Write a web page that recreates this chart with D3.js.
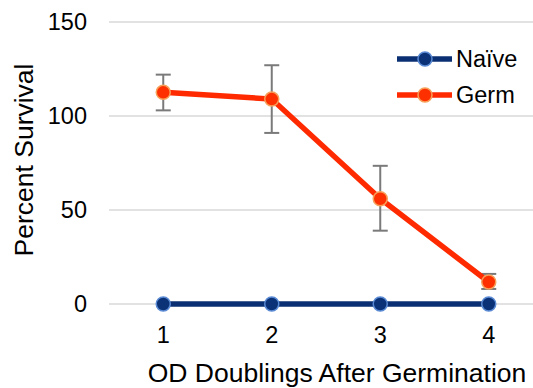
<!DOCTYPE html>
<meta charset="utf-8">
<style>
    body { margin: 0; background: #fff; }
    svg { font-family: "Liberation Sans", Arial, sans-serif; }
    .grid line { stroke: #d9d9d9; stroke-width: 1.5; }
    .axis text { font-size: 23.5px; fill: #000; }
</style>
<body>
<script src="https://d3js.org/d3.v7.min.js"></script>
<script>
    // data
    const doublings = [1, 2, 3, 4];
    const naive = [0, 0, 0, 0];
    const germ = [112.6, 109, 56, 11.7];
    const germErrLow = [103, 91, 39, 8];
    const germErrHigh = [122, 127, 73.5, 16];
    const yTicks = [0, 50, 100, 150];

    const series = [
        {name: "Naïve", values: naive, line: "#0b2f73", fill: "#0b3277", ring: "#5a8ad4"},
        {name: "Germ", values: germ, line: "#ff2a00", fill: "#ff3000", ring: "#f6a05a"}
    ];

    const width = 533, height = 388;

    const svg = d3.select("body").append("svg")
        .attr("width", width)
        .attr("height", height);

    const x = d3.scalePoint()
        .domain(doublings)
        .range([109, 543])
        .padding(0.5);

    const y = d3.scaleLinear()
        .domain([0, 150])
        .range([304, 22]);

    // gridlines
    svg.append("g")
        .attr("class", "grid")
        .selectAll("line")
        .data(yTicks)
        .enter().append("line")
        .attr("x1", 109)
        .attr("x2", width)
        .attr("y1", d => y(d))
        .attr("y2", d => y(d));

    // y tick labels
    svg.append("g")
        .attr("class", "axis")
        .selectAll("text")
        .data(yTicks)
        .enter().append("text")
        .attr("x", 87)
        .attr("y", d => y(d))
        .attr("dy", "0.36em")
        .style("text-anchor", "end")
        .text(d => d);

    // x tick labels
    svg.append("g")
        .attr("class", "axis")
        .selectAll("text")
        .data(doublings)
        .enter().append("text")
        .attr("x", d => x(d))
        .attr("y", 343)
        .style("text-anchor", "middle")
        .text(d => d);

    // axis titles
    svg.append("text")
        .attr("x", 337)
        .attr("y", 382)
        .style("text-anchor", "middle")
        .style("font-size", "26.5px")
        .text("OD Doublings After Germination");

    svg.append("text")
        .attr("transform", "translate(33,160) rotate(-90)")
        .style("text-anchor", "middle")
        .style("font-size", "26.5px")
        .text("Percent Survival");

    // error bars for Germ
    const err = svg.append("g")
        .selectAll("g")
        .data(doublings)
        .enter().append("g")
        .style("stroke", "#7a7a7a")
        .style("stroke-width", 2);
    err.append("line")
        .attr("x1", d => x(d)).attr("x2", d => x(d))
        .attr("y1", (d, i) => y(germErrHigh[i]))
        .attr("y2", (d, i) => y(germErrLow[i]));
    err.append("line")
        .attr("x1", d => x(d) - 7.5).attr("x2", d => x(d) + 7.5)
        .attr("y1", (d, i) => y(germErrHigh[i]))
        .attr("y2", (d, i) => y(germErrHigh[i]));
    err.append("line")
        .attr("x1", d => x(d) - 7.5).attr("x2", d => x(d) + 7.5)
        .attr("y1", (d, i) => y(germErrLow[i]))
        .attr("y2", (d, i) => y(germErrLow[i]));

    const line = d3.line()
        .x((d, i) => x(doublings[i]))
        .y(d => y(d));

    series.forEach(s => {
        svg.append("path")
            .datum(s.values)
            .attr("d", line)
            .style("fill", "none")
            .style("stroke", s.line)
            .style("stroke-width", 5.5);

        svg.append("g")
            .selectAll("circle")
            .data(s.values)
            .enter().append("circle")
            .attr("cx", (d, i) => x(doublings[i]))
            .attr("cy", d => y(d))
            .attr("r", 7)
            .style("fill", s.fill)
            .style("stroke", s.ring)
            .style("stroke-width", 1.5);
    });

    // legend
    const legend = svg.append("g")
        .selectAll("g")
        .data(series)
        .enter().append("g")
        .attr("transform", (d, i) => "translate(397," + (59 + i * 36) + ")");

    legend.append("line")
        .attr("x1", 0).attr("x2", 55)
        .style("stroke", d => d.line)
        .style("stroke-width", 5.5);

    legend.append("circle")
        .attr("cx", 28)
        .attr("r", 7)
        .style("fill", d => d.fill)
        .style("stroke", d => d.ring)
        .style("stroke-width", 1.5);

    legend.append("text")
        .attr("x", 59)
        .attr("dy", "0.36em")
        .style("font-size", "23.5px")
        .text(d => d.name);
</script>
</body>
